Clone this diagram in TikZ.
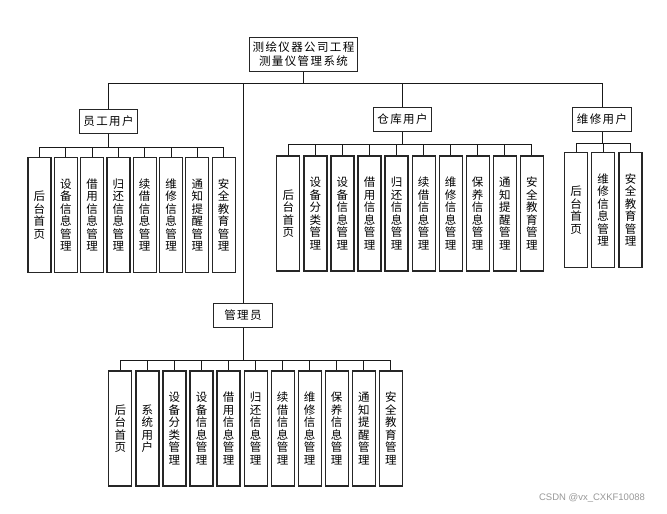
\documentclass[tikz,border=0pt]{standalone}
\usepackage{fontspec}
\newfontfamily\cjk{Noto Sans CJK SC}
\newfontfamily\cjkw[LetterSpace=12]{Noto Sans CJK SC}
\newfontfamily\wmfont{Liberation Sans}
\usepackage{tikz}

\begin{document}
\begin{tikzpicture}[x=1pt,y=-1pt,
  box/.style={draw=black!85, line width=1.2pt, inner sep=0pt, minimum width=58pt, minimum height=24pt, font=\cjkw\fontsize{11.5}{14}\selectfont, align=center},
  leaf/.style={draw=black!85, line width=1.2pt, inner sep=0pt, minimum width=23pt, minimum height=115pt, font=\cjk\fontsize{11.5}{12.5}\selectfont, align=center},
  wire/.style={line width=0.8pt, black!90}]
\fill[white] (0,0) rectangle (667,514);
\useasboundingbox (0,0) rectangle (667,514);

\node[box, minimum width=108pt, minimum height=34pt] (r) at (303.5,54.5) {测绘仪器公司工程\\测量仪管理系统};
\node[box] (yg) at (108.5,121.5) {员工用户};
\node[box] (ck) at (402.5,119.5) {仓库用户};
\node[box, minimum width=59pt] (wx) at (602,119.5) {维修用户};
\node[box, minimum width=59pt] (gl) at (243,315.5) {管理员};

\coordinate (rb) at (303.5,83);
\coordinate (ygb) at (108.5,147);
\coordinate (ckb) at (402.5,144);
\coordinate (wxb) at (602,143);
\coordinate (glb) at (243,360);

\node[leaf] (yg1) at (39.5,215) {后\\台\\首\\页};
\node[leaf] (yg2) at (65.8,215) {设\\备\\信\\息\\管\\理};
\node[leaf] (yg3) at (92.1,215) {借\\用\\信\\息\\管\\理};
\node[leaf] (yg4) at (118.4,215) {归\\还\\信\\息\\管\\理};
\node[leaf] (yg5) at (144.7,215) {续\\借\\信\\息\\管\\理};
\node[leaf] (yg6) at (171.0,215) {维\\修\\信\\息\\管\\理};
\node[leaf] (yg7) at (197.3,215) {通\\知\\提\\醒\\管\\理};
\node[leaf] (yg8) at (223.6,215) {安\\全\\教\\育\\管\\理};

\node[leaf] (ck1) at (288.3,213.5) {后\\台\\首\\页};
\node[leaf] (ck2) at (315.4,213.5) {设\\备\\分\\类\\管\\理};
\node[leaf] (ck3) at (342.4,213.5) {设\\备\\信\\息\\管\\理};
\node[leaf] (ck4) at (369.5,213.5) {借\\用\\信\\息\\管\\理};
\node[leaf] (ck5) at (396.5,213.5) {归\\还\\信\\息\\管\\理};
\node[leaf] (ck6) at (423.6,213.5) {续\\借\\信\\息\\管\\理};
\node[leaf] (ck7) at (450.7,213.5) {维\\修\\信\\息\\管\\理};
\node[leaf] (ck8) at (477.7,213.5) {保\\养\\信\\息\\管\\理};
\node[leaf] (ck9) at (504.8,213.5) {通\\知\\提\\醒\\管\\理};
\node[leaf] (ck10) at (531.8,213.5) {安\\全\\教\\育\\管\\理};

\node[leaf] (wx1) at (576,210) {后\\台\\首\\页};
\node[leaf] (wx2) at (603,210) {维\\修\\信\\息\\管\\理};
\node[leaf] (wx3) at (630.5,210) {安\\全\\教\\育\\管\\理};

\node[leaf] (gl1) at (120.3,428.5) {后\\台\\首\\页};
\node[leaf] (gl2) at (147.4,428.5) {系\\统\\用\\户};
\node[leaf] (gl3) at (174.4,428.5) {设\\备\\分\\类\\管\\理};
\node[leaf] (gl4) at (201.5,428.5) {设\\备\\信\\息\\管\\理};
\node[leaf] (gl5) at (228.5,428.5) {借\\用\\信\\息\\管\\理};
\node[leaf] (gl6) at (255.6,428.5) {归\\还\\信\\息\\管\\理};
\node[leaf] (gl7) at (282.6,428.5) {续\\借\\信\\息\\管\\理};
\node[leaf] (gl8) at (309.7,428.5) {维\\修\\信\\息\\管\\理};
\node[leaf] (gl9) at (336.7,428.5) {保\\养\\信\\息\\管\\理};
\node[leaf] (gl10) at (363.8,428.5) {通\\知\\提\\醒\\管\\理};
\node[leaf] (gl11) at (390.8,428.5) {安\\全\\教\\育\\管\\理};

\node[font=\wmfont\fontsize{9.5}{11}\selectfont, text=black!40] (wm) at (592,498) {CSDN @vx\_CXKF10088};

\draw[wire] (r) -- (rb);
\draw[wire] (rb) -| (yg);
\draw[wire] (rb) -| (ck);
\draw[wire] (rb) -| (wx);
\draw[wire] (rb) -| (gl);

\draw[wire] (yg) -- (ygb);
\draw[wire] (ygb) -| (yg1);
\draw[wire] (ygb) -| (yg2);
\draw[wire] (ygb) -| (yg3);
\draw[wire] (ygb) -| (yg4);
\draw[wire] (ygb) -| (yg5);
\draw[wire] (ygb) -| (yg6);
\draw[wire] (ygb) -| (yg7);
\draw[wire] (ygb) -| (yg8);

\draw[wire] (ck) -- (ckb);
\draw[wire] (ckb) -| (ck1);
\draw[wire] (ckb) -| (ck2);
\draw[wire] (ckb) -| (ck3);
\draw[wire] (ckb) -| (ck4);
\draw[wire] (ckb) -| (ck5);
\draw[wire] (ckb) -| (ck6);
\draw[wire] (ckb) -| (ck7);
\draw[wire] (ckb) -| (ck8);
\draw[wire] (ckb) -| (ck9);
\draw[wire] (ckb) -| (ck10);

\draw[wire] (wx) -- (wxb);
\draw[wire] (wxb) -| (wx1);
\draw[wire] (wxb) -| (wx2);
\draw[wire] (wxb) -| (wx3);

\draw[wire] (gl) -- (glb);
\draw[wire] (glb) -| (gl1);
\draw[wire] (glb) -| (gl2);
\draw[wire] (glb) -| (gl3);
\draw[wire] (glb) -| (gl4);
\draw[wire] (glb) -| (gl5);
\draw[wire] (glb) -| (gl6);
\draw[wire] (glb) -| (gl7);
\draw[wire] (glb) -| (gl8);
\draw[wire] (glb) -| (gl9);
\draw[wire] (glb) -| (gl10);
\draw[wire] (glb) -| (gl11);
\end{tikzpicture}
\end{document}
